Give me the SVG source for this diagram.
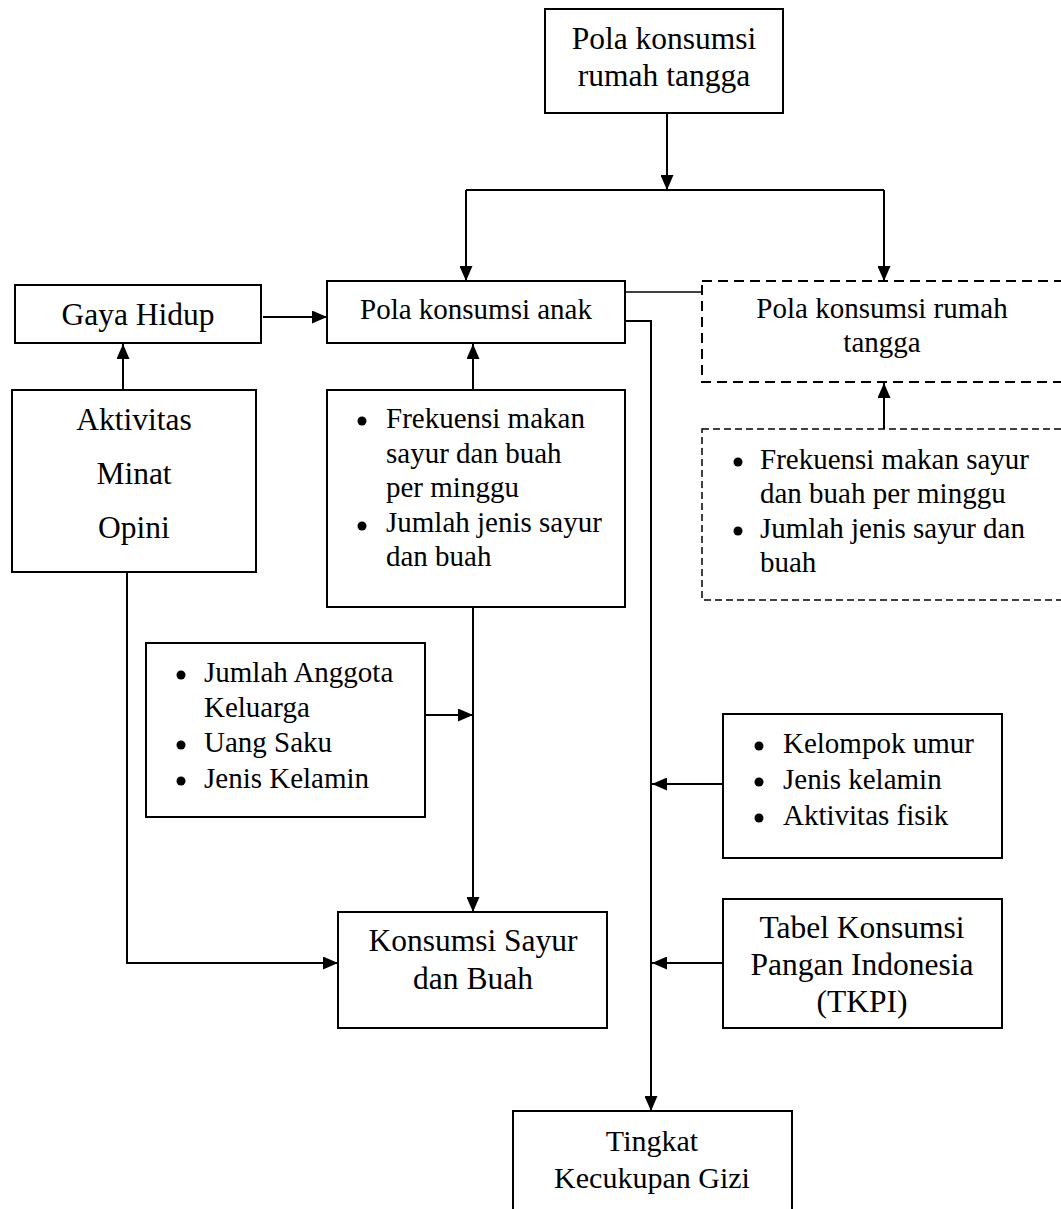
<svg xmlns="http://www.w3.org/2000/svg" width="1061" height="1209" viewBox="0 0 1061 1209">
<style>
.box{fill:#fff;stroke:#000;stroke-width:2}
.dash1{fill:none;stroke:#000;stroke-width:2;stroke-dasharray:10 6}
.dash2{fill:none;stroke:#000;stroke-width:1.5;stroke-dasharray:7 4}
.t{font-family:"Liberation Serif","Times New Roman",serif;fill:#000}
.big{font-size:31.5px}
.mid{font-size:30px}
.sm{font-size:29px}
.c{text-anchor:middle}
.ln{fill:none;stroke:#000;stroke-width:2}
.thin{fill:none;stroke:#000;stroke-width:1.5}
</style>
<defs>
<marker id="ah" markerWidth="15" markerHeight="13" refX="15" refY="6.5" orient="auto" markerUnits="userSpaceOnUse">
<path d="M0,0 L15,6.5 L0,13 z" fill="#000"/>
</marker>
</defs>
<g id="connectors">
<line class="ln" x1="667" y1="113" x2="667" y2="190" marker-end="url(#ah)"/>
<polyline class="ln" points="466,190 884,190"/>
<line class="ln" x1="466" y1="190" x2="466" y2="281" marker-end="url(#ah)"/>
<line class="ln" x1="884" y1="190" x2="884" y2="281" marker-end="url(#ah)"/>
<line class="ln" x1="263" y1="317" x2="327" y2="317" marker-end="url(#ah)"/>
<line class="ln" x1="123" y1="390" x2="123" y2="344" marker-end="url(#ah)"/>
<line class="ln" x1="473" y1="390" x2="473" y2="344" marker-end="url(#ah)"/>
<line class="thin" x1="625" y1="292" x2="702" y2="292"/>
<polyline class="ln" points="625,321 651,321 651,1111" marker-end="url(#ah)"/>
<line class="ln" x1="884" y1="429" x2="884" y2="383" marker-end="url(#ah)"/>
<line class="ln" x1="473" y1="607" x2="473" y2="912" marker-end="url(#ah)"/>
<line class="ln" x1="425" y1="715" x2="473" y2="715" marker-end="url(#ah)"/>
<polyline class="ln" points="127,572 127,963 338,963" marker-end="url(#ah)"/>
<line class="ln" x1="723" y1="784" x2="652" y2="784" marker-end="url(#ah)"/>
<line class="ln" x1="723" y1="963" x2="652" y2="963" marker-end="url(#ah)"/>
</g>
<g id="n-pola-rt">
<rect class="box" x="545" y="9" width="238" height="104"/>
<text class="t big c" x="664" y="49">Pola konsumsi</text>
<text class="t big c" x="664" y="86">rumah tangga</text>
</g>
<g id="n-gaya">
<rect class="box" x="15" y="285" width="246" height="58"/>
<text class="t big c" x="138" y="325">Gaya Hidup</text>
</g>
<g id="n-ami">
<rect class="box" x="12" y="390" width="244" height="182"/>
<text class="t big c" x="134" y="430">Aktivitas</text>
<text class="t big c" x="134" y="484">Minat</text>
<text class="t big c" x="134" y="538">Opini</text>
</g>
<g id="n-pola-anak">
<rect class="box" x="327" y="281" width="298" height="62"/>
<text class="t sm c" x="476" y="319">Pola konsumsi anak</text>
</g>
<g id="n-frek">
<rect class="box" x="327" y="390" width="298" height="217"/>
<circle cx="362" cy="421" r="4.5"/>
<circle cx="362" cy="526" r="4.5"/>
<text class="t sm" x="386" y="428">Frekuensi makan</text>
<text class="t sm" x="386" y="463">sayur dan buah</text>
<text class="t sm" x="386" y="497">per minggu</text>
<text class="t sm" x="386" y="532">Jumlah jenis sayur</text>
<text class="t sm" x="386" y="566">dan buah</text>
</g>
<g id="n-pola-rt2">
<rect class="dash1" x="702" y="281" width="370" height="101"/>
<text class="t sm c" x="882" y="318">Pola konsumsi rumah</text>
<text class="t sm c" x="882" y="352">tangga</text>
</g>
<g id="n-frek2">
<rect class="dash2" x="702" y="429" width="370" height="171"/>
<circle cx="738" cy="462" r="4.5"/>
<circle cx="738" cy="531" r="4.5"/>
<text class="t sm" x="760" y="469">Frekuensi makan sayur</text>
<text class="t sm" x="760" y="503">dan buah per minggu</text>
<text class="t sm" x="760" y="538">Jumlah jenis sayur dan</text>
<text class="t sm" x="760" y="572">buah</text>
</g>
<g id="n-jumlah">
<rect class="box" x="146" y="643" width="279" height="174"/>
<circle cx="181" cy="675" r="4.5"/>
<circle cx="181" cy="745" r="4.5"/>
<circle cx="181" cy="781" r="4.5"/>
<text class="t sm" x="204" y="682">Jumlah Anggota</text>
<text class="t sm" x="204" y="717">Keluarga</text>
<text class="t sm" x="204" y="752">Uang Saku</text>
<text class="t sm" x="204" y="788">Jenis Kelamin</text>
</g>
<g id="n-kelompok">
<rect class="box" x="723" y="714" width="279" height="144"/>
<circle cx="759" cy="746" r="4.5"/>
<circle cx="759" cy="782" r="4.5"/>
<circle cx="759" cy="818" r="4.5"/>
<text class="t sm" x="783" y="753">Kelompok umur</text>
<text class="t sm" x="783" y="789">Jenis kelamin</text>
<text class="t sm" x="783" y="825">Aktivitas fisik</text>
</g>
<g id="n-konsumsi">
<rect class="box" x="338" y="912" width="269" height="116"/>
<text class="t big c" x="473" y="951">Konsumsi Sayur</text>
<text class="t big c" x="473" y="989">dan Buah</text>
</g>
<g id="n-tkpi">
<rect class="box" x="723" y="899" width="279" height="129"/>
<text class="t big c" x="862" y="938">Tabel Konsumsi</text>
<text class="t big c" x="862" y="975">Pangan Indonesia</text>
<text class="t big c" x="862" y="1012">(TKPI)</text>
</g>
<g id="n-tingkat">
<rect class="box" x="513" y="1111" width="279" height="110"/>
<text class="t mid c" x="652" y="1151">Tingkat</text>
<text class="t mid c" x="652" y="1188">Kecukupan Gizi</text>
</g>
</svg>
